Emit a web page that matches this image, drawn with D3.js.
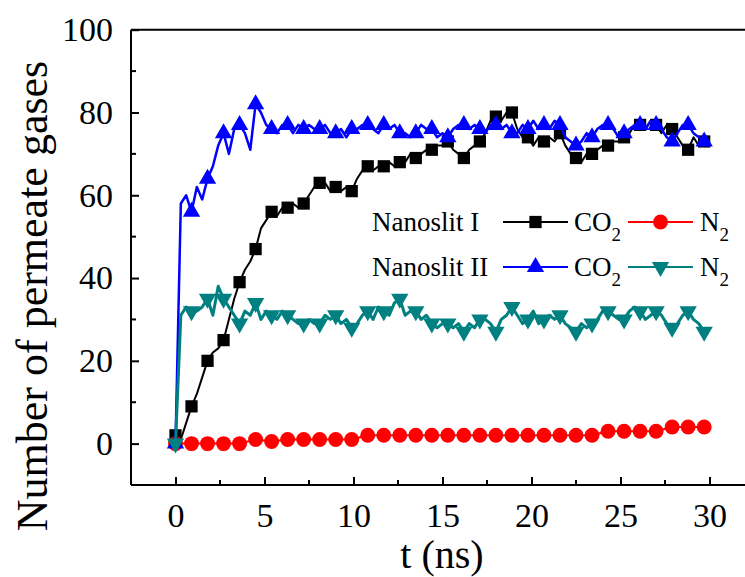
<!DOCTYPE html>
<html>
<head>
<meta charset="utf-8">
<script src="https://cdn.jsdelivr.net/npm/d3@7"></script>
<style>
  html, body { margin: 0; padding: 0; background: #fff; }
  svg { display: block; }
  svg text { font-family: "Liberation Serif", "DejaVu Serif", serif !important; fill: #000; }
</style>
</head>
<body>
<svg id="chart" width="745" height="577"></svg>
<script>
// ---- data (t sampled every 0.3 ns; markers every 3rd sample = 0.9 ns) ----
const DT = 0.3;
const xTicks = [0, 5, 10, 15, 20, 25, 30];
const yTicks = [0, 20, 40, 60, 80, 100];

// Nanoslit I CO2 (black, squares)
const co2I = [2,1,5,9,12,16,20,22,23,25,30,35,39,42,44,47,52,54,56,55,57,57,58,57,58,60,62,63,63,61,62,61,62,61,64,66,67,66,67,67,68,67,68,68,70,69,70,71,71,72,72,73,71,70,69,71,72,73,75,78,79,78,80,80,76,74,74,72,74,73,74,73,75,72,70,69,68,70,70,71,72,72,73,73,74,75,77,77,76,78,77,75,77,76,74,72,71,74,72,73];
// Nanoslit I N2 (red, circles) — one value per marker (0.9 ns)
const n2I = [0,0,0,0,0,1,0.5,1,1,1,1,1,2,2,2,2,2,2,2,2,2,2,2,2,2,2,2,3,3,3,3,4,4,4];
// Nanoslit II CO2 (blue, up triangles)
const co2II = [0,58,60,56,62,59,64,67,72,75,70,76,77,75,71,82,80,77,76,75,77,77,75,77,76,77,76,76,77,75,75,76,74,76,76,77,77,76,75,77,76,77,75,75,74,75,77,76,76,74,75,74,76,77,77,76,77,76,75,77,77,76,77,75,75,77,76,78,76,77,76,78,77,74,73,72,73,75,74,76,77,77,76,74,75,76,77,77,76,78,77,76,74,73,75,77,77,75,74,73];
// Nanoslit II N2 (dark cyan, down triangles)
const n2II = [0,31,33,32,32,33,35,31,38,35,33,31,29,32,31,34,30,32,31,30,32,31,30,29,29,30,29,29,31,30,31,29,30,28,29,31,32,30,33,32,31,34,35,31,32,32,30,31,29,28,29,29,28,29,27,29,28,30,30,29,27,30,31,33,31,29,30,32,29,30,31,30,31,29,28,27,29,28,29,30,32,32,31,30,30,32,33,32,30,31,32,31,29,28,29,31,32,30,29,27];

const legendRows = ["Nanoslit I", "Nanoslit II"];
const gasLabels = ["CO", "N"];

// ---- layout ----
const FONT = "Liberation Serif, DejaVu Serif, serif";
const svg = d3.select("#chart");
const x = d3.scaleLinear().domain([-2.5, 32.5]).range([131, 754]);
const y = d3.scaleLinear().domain([-10, 100]).range([485, 29.7]);

const dense = arr => arr.map((v, i) => [i * DT, v]);
const markersOf = arr => arr.map((v, i) => [i * DT, v]).filter((d, i) => i % 3 === 0);
const sparse = arr => arr.map((v, i) => [i * 0.9, v]);

const series = [
  { line: dense(co2I), marks: markersOf(co2I), color: "#000000", sym: d3.symbolSquare, size: 150, lw: 2 },
  { line: sparse(n2I), marks: sparse(n2I), color: "#ff0000", sym: d3.symbolCircle, size: 175, lw: 2 },
  { line: dense(co2II), marks: markersOf(co2II), color: "#0000ff", sym: d3.symbolTriangle, size: 130, lw: 2.5 },
  { line: dense(n2II), marks: markersOf(n2II), color: "#008080", sym: d3.symbolTriangle, size: 130, lw: 3, flip: true }
];

const lineGen = d3.line().x(d => x(d[0])).y(d => y(d[1]));

const plot = svg.append("g");
series.forEach(s => {
  plot.append("path").datum(s.line)
    .attr("d", lineGen).attr("fill", "none")
    .attr("stroke", s.color).attr("stroke-width", s.lw)
    .attr("stroke-linejoin", "round");
  plot.selectAll(null).data(s.marks).enter().append("path")
    .attr("d", d3.symbol().type(s.sym).size(s.size))
    .attr("transform", d => `translate(${x(d[0])},${y(d[1])})` + (s.flip ? " rotate(180)" : ""))
    .attr("fill", s.color);
});

// ---- axes ----
const axisG = svg.append("g");
const yAxis = d3.axisLeft(y).tickValues(yTicks).tickSize(-8).tickPadding(18).tickFormat(d3.format("d"));
const gy = axisG.append("g").attr("transform", `translate(${x(-2.5)},0)`).call(yAxis)
  .attr("font-family", FONT).attr("font-size", 34);
gy.select(".domain").attr("stroke-width", 2).attr("d", `M0,${y(-10)}V${y(100)}`);
gy.selectAll(".tick line").attr("stroke-width", 2);
gy.selectAll(".tick text").style("font-family", FONT).style("font-size", "34px");

const yMinor = [10, 30, 50, 70, 90];
axisG.selectAll(null).data(yMinor).enter().append("line")
  .attr("x1", x(-2.5)).attr("x2", x(-2.5) + 5)
  .attr("y1", d => y(d)).attr("y2", d => y(d))
  .attr("stroke", "#000").attr("stroke-width", 2);

const xAxis = d3.axisBottom(x).tickValues(xTicks).tickSize(-8).tickPadding(18).tickFormat(d3.format("d"));
const gx = axisG.append("g").attr("transform", `translate(0,${y(-10)})`).call(xAxis)
  .attr("font-family", FONT).attr("font-size", 34);
gx.select(".domain").attr("stroke-width", 2).attr("d", `M${x(-2.5)},0H${x(32.5)}`);
gx.selectAll(".tick line").attr("stroke-width", 2);
gx.selectAll(".tick text").style("font-family", FONT).style("font-size", "34px");

const xMinor = [2.5, 7.5, 12.5, 17.5, 22.5, 27.5];
axisG.selectAll(null).data(xMinor).enter().append("line")
  .attr("x1", d => x(d)).attr("x2", d => x(d))
  .attr("y1", y(-10)).attr("y2", y(-10) - 5)
  .attr("stroke", "#000").attr("stroke-width", 2);

// top frame
axisG.append("line").attr("x1", x(-2.5)).attr("x2", x(32.5))
  .attr("y1", y(100)).attr("y2", y(100)).attr("stroke", "#000").attr("stroke-width", 2);

// axis titles
svg.append("text").attr("x", 442).attr("y", 568).attr("text-anchor", "middle")
  .style("font-family", FONT).style("font-size", "40px").text("t (ns)");
svg.append("text").attr("transform", "translate(47,296) rotate(-90)")
  .attr("text-anchor", "middle").style("font-family", FONT).style("font-size", "44px")
  .text("Number of permeate gases");

// ---- legend ----
const leg = svg.append("g");
const rowY = [222, 267];
const legItems = [
  [series[0], series[1]],
  [series[2], series[3]]
];
legendRows.forEach((name, r) => {
  const yy = rowY[r];
  leg.append("text").attr("x", 372).attr("y", yy + 9)
    .style("font-family", FONT).style("font-size", "27px").text(name);
  const segStarts = [503, 628];
  const textStarts = [574, 700];
  legItems[r].forEach((s, j) => {
    const x0 = segStarts[j], x1 = x0 + 65;
    leg.append("line").attr("x1", x0).attr("x2", x1).attr("y1", yy).attr("y2", yy)
      .attr("stroke", s.color).attr("stroke-width", 2);
    leg.append("path").attr("d", d3.symbol().type(s.sym).size(s.size))
      .attr("transform", `translate(${(x0 + x1) / 2},${yy})` + (s.flip ? " rotate(180)" : ""))
      .attr("fill", s.color);
    const t = leg.append("text").attr("x", textStarts[j]).attr("y", yy + 9)
      .style("font-family", FONT).style("font-size", "27px");
    t.append("tspan").text(gasLabels[j]);
    t.append("tspan").attr("dy", 10).style("font-size", "19px").text("2");
  });
});
</script>
</body>
</html>
